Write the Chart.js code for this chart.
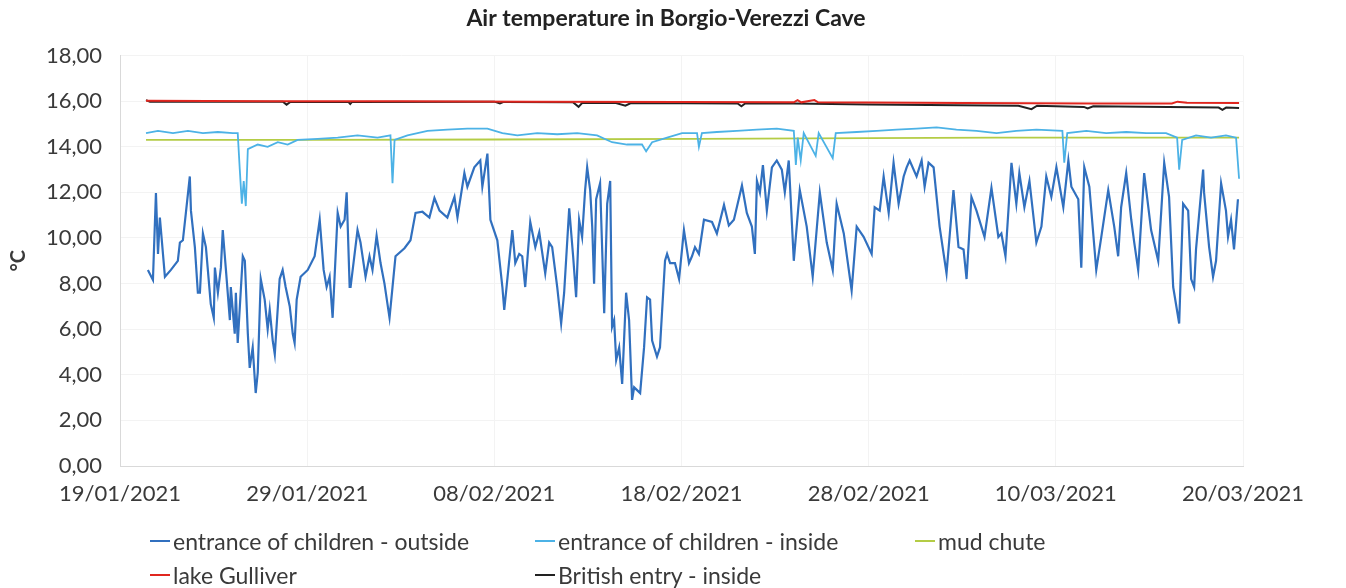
<!DOCTYPE html>
<html>
<head>
<meta charset="utf-8">
<script src="https://cdn.jsdelivr.net/npm/chart.js@4.4.1/dist/chart.umd.min.js"></script>
<style>
  body { margin: 0; background: #fff; }
  #wrap { position: relative; width: 1346px; height: 588px; }
  #legend { position: absolute; left: 0; top: 0; font-family: Lato, sans-serif; font-size: 23px; color: #3a3a3a; }
  .item { position: absolute; white-space: nowrap; display: flex; align-items: center; transform: translateY(-50%); }
  .item i { display: inline-block; width: 20px; height: 2px; margin-right: 3px; }
</style>
</head>
<body>
<div id="wrap">
  <canvas id="chart-temp" width="1346" height="588"></canvas>
  <div id="legend"></div>
</div>
<script>
// days counted from 19/01/2021 00:00
const tickLabels = ['19/01/2021', '29/01/2021', '08/02/2021', '18/02/2021', '28/02/2021', '10/03/2021', '20/03/2021'];

const outsideDays = [1.49, 1.76, 1.92, 2.03, 2.13, 2.40, 2.72, 3.09, 3.20, 3.36, 3.52, 3.73, 3.79, 4.00, 4.16, 4.27, 4.43, 4.59, 4.85, 5.01,
  5.07, 5.23, 5.39, 5.49, 5.65, 5.87, 5.92, 6.13, 6.19, 6.29, 6.56, 6.67, 6.83, 6.93, 7.09, 7.25, 7.36, 7.52, 7.73, 7.89,
  8.00, 8.16, 8.27, 8.53, 8.69, 8.85, 9.07, 9.23, 9.33, 9.44, 9.65, 10.03, 10.40, 10.67, 10.88, 11.04, 11.20, 11.36, 11.63, 11.79,
  12.00, 12.11, 12.27, 12.32, 12.69, 12.85, 13.12, 13.33, 13.49, 13.71, 13.92, 14.13, 14.40, 14.56, 14.72, 15.20, 15.52, 15.79, 16.16, 16.53,
  16.80, 17.07, 17.49, 17.87, 18.03, 18.40, 18.56, 18.93, 19.25, 19.36, 19.63, 19.79, 20.16, 20.43, 20.53, 20.96, 21.12, 21.33, 21.49, 21.65,
  21.92, 22.19, 22.40, 22.72, 22.93, 23.09, 23.36, 23.57, 23.73, 24.00, 24.21, 24.37, 24.53, 24.69, 24.85, 24.96, 25.12, 25.23, 25.33, 25.44,
  25.65, 25.87, 26.03, 26.19, 26.29, 26.40, 26.51, 26.67, 26.83, 27.04, 27.20, 27.36, 27.47, 27.79, 28.00, 28.16, 28.32, 28.43, 28.69, 28.85,
  29.12, 29.23, 29.39, 29.65, 29.87, 30.13, 30.40, 30.56, 30.72, 30.93, 31.20, 31.63, 31.89, 32.27, 32.53, 32.80, 33.23, 33.49, 33.76, 33.92,
  34.03, 34.19, 34.35, 34.56, 34.83, 35.09, 35.36, 35.52, 35.73, 36.00, 36.32, 36.69, 37.01, 37.39, 37.76, 38.08, 38.29, 38.67, 39.09, 39.36,
  39.73, 40.16, 40.32, 40.59, 40.80, 41.07, 41.33, 41.60, 41.87, 42.03, 42.19, 42.56, 42.83, 42.99, 43.20, 43.47, 43.79, 44.16, 44.53, 44.80,
  45.07, 45.23, 45.49, 45.76, 46.19, 46.56, 46.93, 47.09, 47.31, 47.63, 47.89, 48.05, 48.32, 48.59, 48.96, 49.23, 49.49, 49.76, 50.03, 50.40,
  50.67, 50.83, 51.20, 51.36, 51.52, 51.79, 52.16, 52.43, 52.80, 53.12, 53.33, 53.49, 53.76, 54.03, 54.19, 54.40, 54.72, 55.09, 55.47, 55.79,
  56.05, 56.27, 56.59, 56.80, 57.07, 57.23, 57.39, 57.49, 57.87, 57.92, 58.19, 58.40, 58.56, 58.83, 59.09, 59.20, 59.36, 59.52, 59.73];
const outsideTemp = [8.6, 8.16, 11.97, 9.3, 10.9, 8.3, 8.6, 9.0, 9.8, 9.9, 11.1, 12.7, 11.2, 9.6, 7.6, 7.6, 10.2, 9.6, 7.1, 6.5,
  8.7, 7.6, 8.7, 10.35, 8.7, 6.4, 7.85, 5.8, 7.6, 5.4, 9.2, 9.0, 5.8, 4.3, 5.2, 3.2, 4.1, 8.2, 7.3, 6.0,
  6.85, 5.5, 4.9, 8.2, 8.6, 7.85, 7.0, 5.8, 5.4, 7.3, 8.3, 8.6, 9.2, 10.8, 8.6, 7.85, 8.3, 6.5, 11.1, 10.5,
  10.8, 12.0, 7.85, 7.85, 10.35, 9.8, 8.3, 9.2, 8.6, 10.1, 8.9, 8.0, 6.5, 7.85, 9.2, 9.55, 9.9, 11.1, 11.15, 10.9,
  11.75, 11.2, 10.9, 11.8, 10.9, 12.85, 12.25, 13.1, 13.4, 12.25, 13.7, 10.8, 9.9, 7.85, 6.85, 10.35, 8.9, 9.3, 9.2, 7.85,
  10.7, 9.6, 10.25, 8.45, 9.8, 9.6, 7.85, 6.25, 7.6, 11.3, 9.2, 7.4, 10.8, 10.05, 12.1, 13.1, 12.1, 10.5, 8.0, 11.7,
  12.4, 6.7, 11.5, 12.5, 6.1, 6.4, 4.65, 5.2, 3.6, 7.6, 6.4, 2.9, 3.45, 3.2, 5.2, 7.4, 7.3, 5.5, 4.8, 5.2,
  9.0, 9.3, 8.9, 8.9, 8.2, 10.35, 8.9, 9.2, 9.6, 9.3, 10.8, 10.7, 10.2, 11.45, 10.55, 10.8, 12.3, 11.1, 10.5, 9.3,
  12.5, 12.0, 13.2, 11.2, 13.1, 13.4, 13.0, 12.0, 13.4, 9.0, 12.1, 10.5, 8.3, 12.0, 9.8, 8.6, 11.5, 10.2, 7.7, 10.5,
  10.05, 9.3, 11.35, 11.2, 12.7, 11.1, 13.3, 11.5, 12.7, 13.1, 13.4, 12.7, 13.4, 12.25, 13.3, 13.1, 10.5, 8.45, 12.1, 9.6,
  9.5, 8.2, 11.8, 11.2, 10.05, 12.2, 10.05, 10.2, 9.2, 13.3, 11.5, 12.85, 11.35, 12.5, 9.8, 10.5, 12.7, 11.8, 13.1, 11.35,
  13.4, 12.25, 11.7, 8.7, 13.1, 12.25, 8.6, 10.05, 12.1, 10.5, 9.2, 11.35, 12.85, 10.8, 9.8, 8.6, 12.85, 10.35, 9.0, 13.3,
  11.8, 7.85, 6.25, 11.5, 11.2, 8.2, 7.85, 9.5, 13.0, 12.0, 9.6, 8.3, 9.0, 12.4, 11.2, 10.05, 10.8, 9.5, 11.7];

const insideDays = [1.39, 2.03, 2.83, 3.63, 4.43, 5.23, 6.03, 6.29, 6.40, 6.51, 6.61, 6.72, 6.83, 7.36, 7.89, 8.43, 8.96, 9.49, 10.56, 11.63,
  12.69, 13.76, 14.45, 14.56, 14.67, 15.36, 16.43, 17.49, 18.56, 19.63, 20.43, 21.23, 22.29, 23.36, 24.43, 25.49, 26.29, 27.09, 27.89, 28.11,
  28.43, 29.23, 30.03, 30.83, 30.93, 31.09, 31.89, 32.96, 34.03, 35.09, 36.00, 36.11, 36.21, 36.37, 36.53, 37.17, 37.33, 38.08, 38.24, 39.36,
  40.43, 41.49, 42.56, 43.63, 44.69, 45.76, 46.83, 47.89, 48.96, 50.35, 50.45, 50.61, 51.63, 52.69, 53.76, 54.83, 55.89, 56.48, 56.59, 56.75,
  57.49, 58.29, 59.09, 59.63, 59.79];
const insideTemp = [14.6, 14.7, 14.6, 14.7, 14.6, 14.65, 14.6, 14.6, 13.0, 11.5, 12.5, 11.4, 13.9, 14.1, 14.0, 14.2, 14.1, 14.3, 14.35, 14.4,
  14.5, 14.4, 14.5, 12.4, 14.3, 14.5, 14.7, 14.75, 14.8, 14.8, 14.6, 14.5, 14.6, 14.55, 14.6, 14.5, 14.2, 14.1, 14.1, 13.8,
  14.2, 14.4, 14.6, 14.6, 14.0, 14.6, 14.65, 14.7, 14.75, 14.8, 14.7, 13.2, 14.4, 13.4, 14.6, 13.6, 14.6, 13.5, 14.6, 14.65,
  14.7, 14.75, 14.8, 14.85, 14.75, 14.7, 14.6, 14.7, 14.75, 14.7, 13.3, 14.6, 14.7, 14.6, 14.65, 14.6, 14.6, 14.4, 13.0, 14.3,
  14.5, 14.4, 14.5, 14.4, 12.6];

const mudDays = [1.39, 10, 20, 30.83, 40, 46.83, 59.79];
const mudTemp = [14.3, 14.3, 14.32, 14.35, 14.38, 14.4, 14.4];

const gulliverDays = [1.39, 8, 15, 22, 30, 36, 36.2, 36.4, 37.1, 37.3, 45, 52, 56.2, 56.5, 57, 59.79];
const gulliverTemp = [16.02, 16.0, 16.0, 15.98, 15.97, 15.95, 16.05, 15.95, 16.05, 15.95, 15.92, 15.9, 15.9, 15.98, 15.93, 15.92];

const britishDays = [1.39, 1.6, 8.7, 8.9, 9.1, 12.2, 12.3, 12.4, 20.0, 20.3, 20.5, 24.2, 24.5, 24.7, 26.5, 27.0, 27.3, 33.0, 33.2, 33.4,
  36, 40, 48, 48.7, 49, 51.5, 51.7, 52, 56, 58.7, 58.9, 59.1, 59.79];
const britishTemp = [16.05, 15.98, 15.98, 15.85, 15.97, 15.97, 15.88, 15.97, 15.98, 15.9, 15.97, 15.95, 15.75, 15.93, 15.92, 15.8, 15.92, 15.9, 15.78, 15.9,
  15.9, 15.85, 15.8, 15.65, 15.8, 15.75, 15.68, 15.78, 15.75, 15.72, 15.62, 15.72, 15.7];

function pts(xs, ys) {
  return xs.map((x, i) => ({x: x, y: ys[i]}));
}

const textColor = '#3a3a3a';

const ctx = document.getElementById('chart-temp').getContext('2d');

const myChart = new Chart(ctx, {
  type: 'line',
  data: {
    datasets: [
      {label: 'entrance of children - outside', data: pts(outsideDays, outsideTemp), borderColor: '#3170bf', borderWidth: 2.2},
      {label: 'entrance of children - inside', data: pts(insideDays, insideTemp), borderColor: '#4cb2e6', borderWidth: 1.8},
      {label: 'mud chute', data: pts(mudDays, mudTemp), borderColor: '#b4cc45', borderWidth: 1.8},
      {label: 'lake Gulliver', data: pts(gulliverDays, gulliverTemp), borderColor: '#e0261f', borderWidth: 2},
      {label: 'British entry - inside', data: pts(britishDays, britishTemp), borderColor: '#222222', borderWidth: 2}
    ]
  },
  options: {
    responsive: false,
    animation: false,
    elements: {
      point: {radius: 0},
      line: {tension: 0}
    },
    layout: {
      padding: {left: 0, right: 14, top: 0, bottom: 81}
    },
    scales: {
      x: {
        type: 'linear',
        min: 0,
        max: 60,
        afterFit: (scale) => { scale.height = 41; },
        ticks: {
          stepSize: 10,
          padding: 15,
          maxRotation: 0,
          color: textColor,
          font: {family: 'Lato', size: 22},
          callback: (value) => tickLabels[Math.round(value / 10)]
        },
        grid: {color: '#f3f3f3', drawTicks: false},
        border: {color: '#d9d9d9'}
      },
      y: {
        min: 0,
        max: 18,
        afterFit: (scale) => { scale.width = 120; },
        ticks: {
          stepSize: 2,
          padding: 18,
          color: textColor,
          font: {family: 'Lato', size: 22},
          callback: (value) => value.toFixed(2).replace('.', ',')
        },
        title: {
          display: true,
          text: '°C',
          color: textColor,
          font: {family: 'Lato', size: 20, weight: 'bold'},
          padding: {top: 7, bottom: 0}
        },
        grid: {color: '#f3f3f3', drawTicks: false},
        border: {color: '#d9d9d9'}
      },
      // empty right-hand spacer so the plot ends where the original does
      yRight: {
        position: 'right',
        afterFit: (scale) => { scale.width = 89; },
        ticks: {display: false},
        grid: {display: false, drawTicks: false},
        border: {display: false}
      }
    },
    plugins: {
      legend: {display: false},
      tooltip: {enabled: false},
      title: {
        display: true,
        text: 'Air temperature in Borgio-Verezzi Cave',
        color: '#222',
        font: {family: 'Lato', size: 23, weight: 'bold'},
        padding: {top: 5, bottom: 23}
      }
    }
  }
});

// legend below the plot, laid out in columns like the original
const legendCols = [150, 535, 915];
const legendRows = [541, 575];
const legendEl = document.getElementById('legend');
myChart.data.datasets.forEach((ds, i) => {
  const item = document.createElement('div');
  item.className = 'item';
  item.style.left = legendCols[i % 3] + 'px';
  item.style.top = legendRows[Math.floor(i / 3)] + 'px';
  const mark = document.createElement('i');
  mark.style.background = ds.borderColor;
  item.appendChild(mark);
  item.appendChild(document.createTextNode(ds.label));
  legendEl.appendChild(item);
});
</script>
</body>
</html>
